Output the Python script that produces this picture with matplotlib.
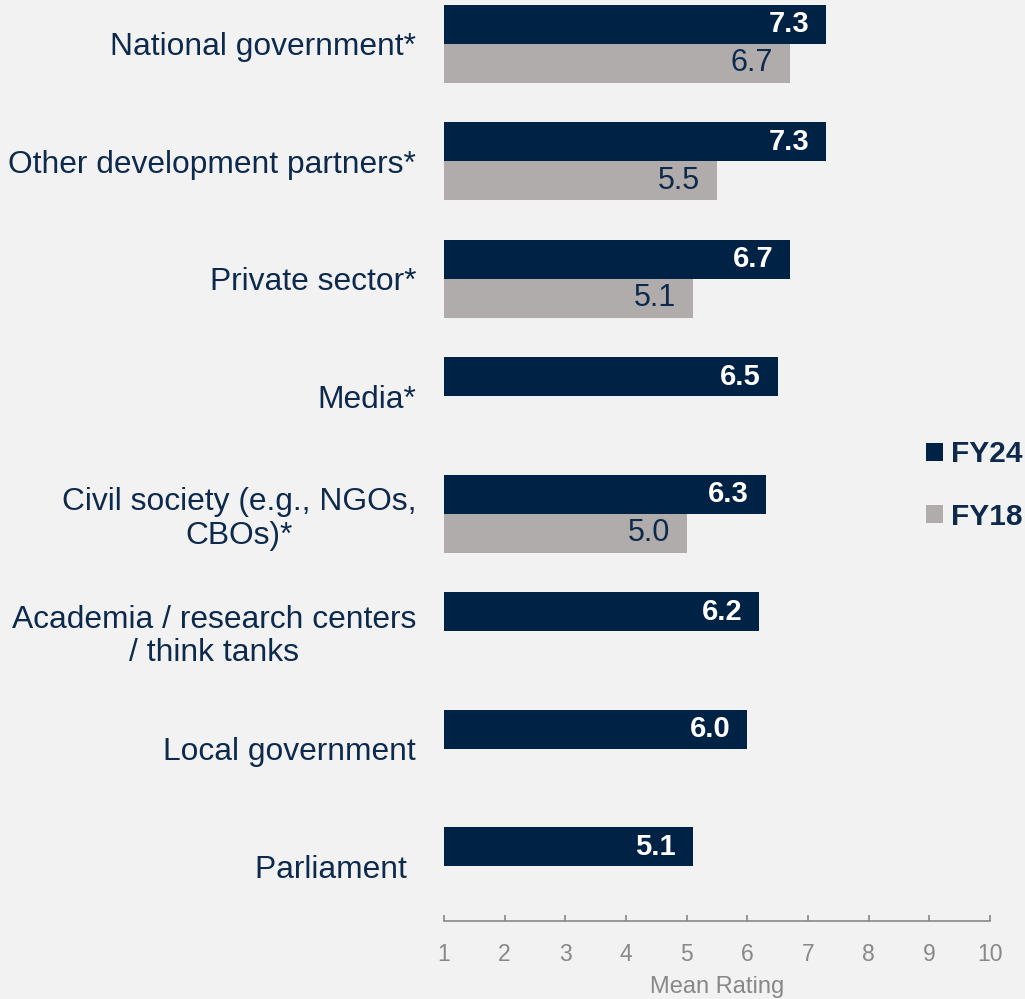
import matplotlib
matplotlib.use("Agg")
import matplotlib.pyplot as plt
import numpy as np

categories = ["National government*", "Other development partners*", "Private sector*",
              "Media*", "Civil society (e.g., NGOs,\nCBOs)*",
              "Academia / research centers\n/ think tanks", "Local government", "Parliament "]
fy24 = [7.3, 7.3, 6.7, 6.5, 6.3, 6.2, 6.0, 5.1]
fy18 = [6.7, 5.5, 5.1, None, 5.0, None, None, None]
xticks = [1, 2, 3, 4, 5, 6, 7, 8, 9, 10]

NAVY = "#002244"
GRAY = "#b0acab"
TEXT = "#0d2a4d"
BG = "#f2f2f2"

plt.rcParams['font.family'] = ['Liberation Sans', 'DejaVu Sans']

W, H = 1025, 999
fig = plt.figure(figsize=(W/100, H/100), dpi=100, facecolor=BG)
ax = fig.add_axes([444/W, 1-921/H, 546/W, 921/H], facecolor=BG)

y = np.arange(len(categories))
bh = 0.332
ax.barh(y - bh/2, [v - 1 for v in fy24], left=1, height=bh, color=NAVY, label="FY24")
y18 = [yy + bh/2 for yy, v in zip(y, fy18) if v is not None]
v18 = [v for v in fy18 if v is not None]
ax.barh(y18, [v - 1 for v in v18], left=1, height=bh, color=GRAY, label="FY18")

for yy, v in zip(y, fy24):
    ax.annotate(f"{v:.1f}", (v, yy - bh/2), xytext=(-12, 0), textcoords="offset points",
                ha="right", va="center", color="white", fontweight="bold", fontsize=21)
for yy, v in zip(y18, v18):
    ax.annotate(f"{v:.1f}", (v, yy), xytext=(-12, 0), textcoords="offset points",
                ha="right", va="center", color=TEXT, fontsize=22)

ax.set_xlim(1, 10)
ax.set_ylim(7.464, -0.374)
ax.set_xticks(xticks)
ax.set_yticks(y)
ax.set_yticklabels(categories, fontsize=22.9, color=TEXT, multialignment="center",
                   linespacing=1.15)
ax.tick_params(axis="y", length=0, pad=20)
ax.tick_params(axis="x", direction="in", length=4.5, width=1.2, color="#888888",
               labelcolor="#888888", labelsize=16.5, pad=16)
for s in ["top", "right", "left"]:
    ax.spines[s].set_visible(False)
ax.spines["bottom"].set_color("#888888")
ax.spines["bottom"].set_linewidth(1.2)
ax.set_xlabel("Mean Rating", fontsize=17, color="#888888", labelpad=7)

leg = fig.legend(loc="upper left", bbox_to_anchor=(926/W, 1-440.5/H), frameon=False,
                 borderpad=0, borderaxespad=0,
                 handlelength=0.57, handleheight=0.57, handletextpad=0.27,
                 labelspacing=1.14, prop={"weight": "bold", "size": 21.5})
for t in leg.get_texts():
    t.set_color(TEXT)

fig.savefig("out.png", dpi=100, facecolor=BG)
